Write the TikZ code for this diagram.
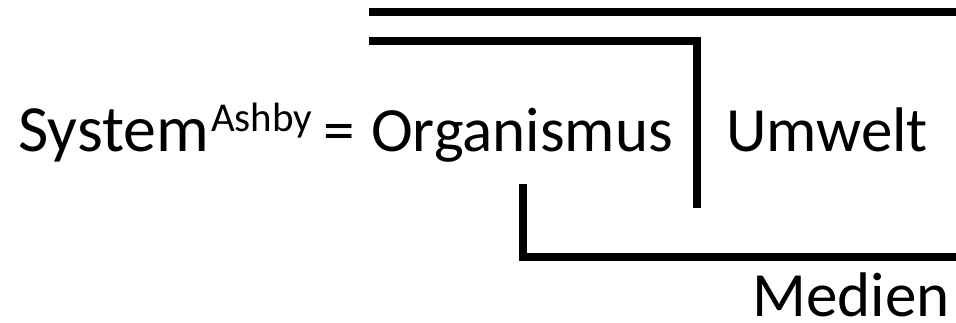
\documentclass[tikz,border=0pt]{standalone}
\usepackage{fontspec}
\setmainfont{Carlito}
\usepackage{tikz}
\usetikzlibrary{positioning, calc}

\begin{document}
\begin{tikzpicture}[
  x=1pt, y=-1pt,
  label/.style={inner sep=0pt, anchor=base west, font=\fontsize{63}{70}\selectfont},
  sup/.style={inner sep=0pt, anchor=base west, font=\fontsize{41}{45}\selectfont},
  bracket/.style={line width=7.5pt, line join=miter, black}]
  \useasboundingbox (0,0) rectangle (956,323);
  % texts
  \node[label, font=\fontsize{66}{70}\selectfont] (sys) at (18,152) {System};
  \node[sup] (ashby) at (211,132) {Ashby};
  \node[label] (eq) at (323,152) {=};
  \node[label] (org) at (371,152) {Organismus};
  \node[label] (umw) at (726,152) {Umwelt};
  \node[label, anchor=base east, text depth=0pt] (med) at (950,316) {Medien};
  % bracket ends
  \coordinate (topL) at (369,12);
  \coordinate (topR) at (956,12);
  \coordinate (orgL) at (369,41);
  \coordinate (orgB) at (697,208);
  \coordinate (medT) at (523,184);
  \coordinate (medR) at (956,257);
  \draw[bracket] (topL) -- (topR);
  \draw[bracket] (orgL) -| (orgB);
  \draw[bracket] (medT) |- (medR);
\end{tikzpicture}
\end{document}
